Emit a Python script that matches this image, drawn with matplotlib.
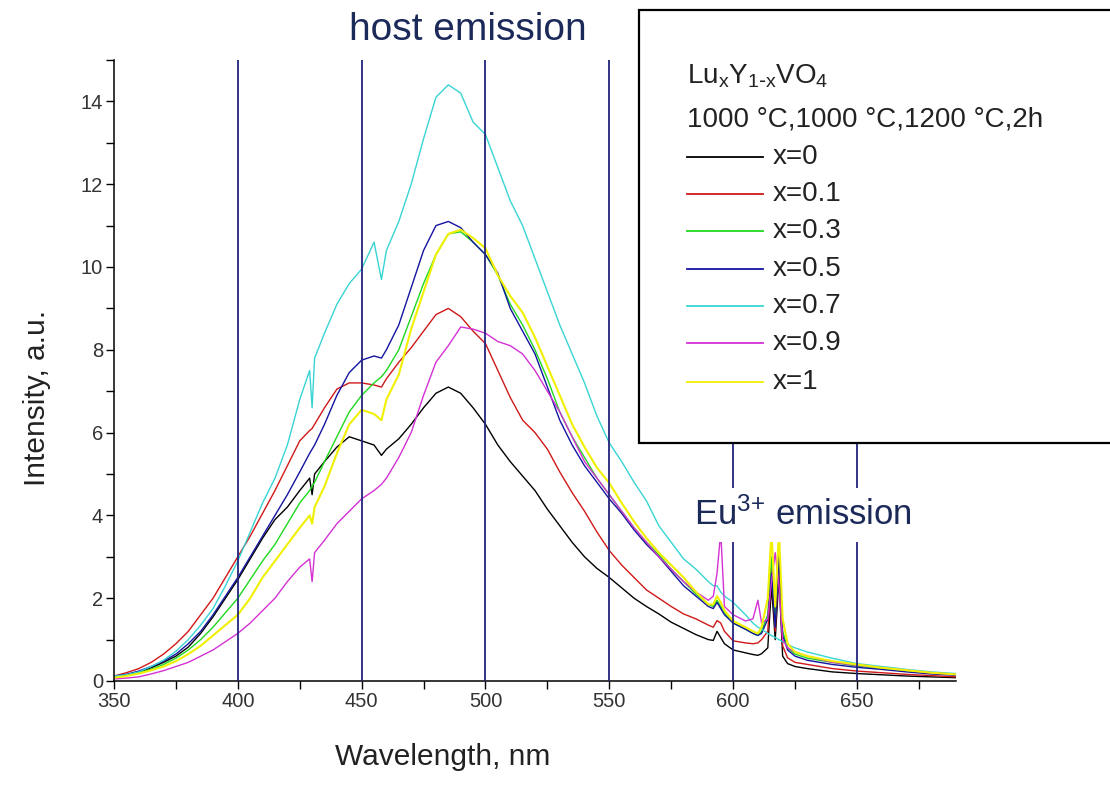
import matplotlib
matplotlib.use("Agg")
import matplotlib.pyplot as plt
from matplotlib.lines import Line2D
from matplotlib.patches import Rectangle
from matplotlib.ticker import MultipleLocator

plt.rcParams["font.family"] = ["Liberation Sans", "DejaVu Sans"]
plt.rcParams["mathtext.default"] = "regular"

# wavelength grid (nm), shared by all spectra
wavelength = [
    350, 355, 360, 365, 370, 375, 380, 385, 390, 395, 400, 405, 410, 415, 420, 425,
    429, 430, 431, 435, 440, 445, 450, 455, 458, 460, 465, 470, 475, 480, 485, 490,
    495, 500, 505, 510, 515, 520, 525, 530, 535, 540, 545, 550, 555, 560, 565, 570,
    575, 580, 585, 590, 592, 593.5, 595, 596.5, 600, 605, 608, 610, 611.5, 614,
    615.5, 617, 618.5, 620, 622, 625, 630, 640, 650, 660, 670, 680, 690,
]

x0 = [
    0.10, 0.15, 0.20, 0.32, 0.45, 0.60, 0.82, 1.15, 1.55, 2.00, 2.45, 2.95, 3.45, 3.90, 4.20, 4.60,
    4.90, 4.50, 5.00, 5.30, 5.65, 5.90, 5.80, 5.70, 5.45, 5.60, 5.85, 6.20, 6.60, 6.95, 7.10, 6.95,
    6.60, 6.20, 5.70, 5.30, 4.95, 4.60, 4.15, 3.75, 3.35, 3.00, 2.72, 2.50, 2.25, 2.00, 1.80, 1.62,
    1.42, 1.27, 1.12, 1.00, 0.98, 1.20, 1.05, 0.90, 0.75, 0.68, 0.64, 0.62, 0.66, 0.80,
    2.30, 1.00, 2.50, 0.60, 0.42, 0.35, 0.30, 0.22, 0.18, 0.15, 0.12, 0.10, 0.08,
]
x01 = [
    0.12, 0.20, 0.30, 0.45, 0.65, 0.90, 1.20, 1.60, 2.00, 2.50, 3.00, 3.50, 4.05, 4.60, 5.20, 5.80,
    6.05, 6.10, 6.20, 6.60, 7.05, 7.20, 7.20, 7.15, 7.10, 7.30, 7.70, 8.05, 8.45, 8.85, 9.00, 8.80,
    8.45, 8.15, 7.50, 6.85, 6.30, 6.00, 5.60, 5.05, 4.55, 4.10, 3.60, 3.15, 2.80, 2.50, 2.20, 2.00,
    1.80, 1.62, 1.50, 1.35, 1.30, 1.46, 1.40, 1.20, 0.97, 0.92, 0.90, 0.92, 1.00, 1.20,
    2.70, 1.20, 2.90, 0.85, 0.56, 0.45, 0.40, 0.30, 0.24, 0.20, 0.16, 0.13, 0.10,
]
x03 = [
    0.10, 0.13, 0.20, 0.28, 0.40, 0.55, 0.75, 1.00, 1.30, 1.65, 2.00, 2.45, 2.90, 3.30, 3.80, 4.30,
    4.60, 4.70, 4.80, 5.30, 5.90, 6.50, 6.90, 7.20, 7.35, 7.50, 8.00, 8.80, 9.60, 10.30, 10.80, 10.85,
    10.60, 10.30, 9.80, 9.10, 8.60, 8.00, 7.30, 6.50, 5.90, 5.40, 4.90, 4.50, 4.10, 3.70, 3.35, 3.05,
    2.70, 2.40, 2.10, 1.85, 1.80, 1.95, 1.80, 1.65, 1.40, 1.25, 1.15, 1.10, 1.20, 1.60,
    3.00, 1.40, 3.40, 1.20, 0.80, 0.65, 0.55, 0.45, 0.36, 0.30, 0.24, 0.19, 0.15,
]
x05 = [
    0.12, 0.16, 0.24, 0.35, 0.48, 0.65, 0.90, 1.20, 1.60, 2.05, 2.50, 3.00, 3.50, 4.00, 4.50, 5.05,
    5.50, 5.60, 5.70, 6.20, 6.90, 7.45, 7.75, 7.85, 7.80, 8.00, 8.60, 9.50, 10.40, 11.00, 11.10, 10.95,
    10.60, 10.30, 9.85, 9.00, 8.45, 7.90, 7.10, 6.30, 5.70, 5.20, 4.80, 4.40, 4.05, 3.65, 3.30, 3.00,
    2.65, 2.30, 2.05, 1.80, 1.75, 1.90, 1.75, 1.60, 1.40, 1.25, 1.15, 1.10, 1.15, 1.50,
    2.60, 1.30, 3.00, 1.10, 0.75, 0.60, 0.50, 0.40, 0.33, 0.28, 0.22, 0.17, 0.14,
]
x07 = [
    0.12, 0.15, 0.22, 0.35, 0.50, 0.72, 1.00, 1.35, 1.75, 2.30, 2.90, 3.60, 4.30, 4.90, 5.70, 6.80,
    7.50, 6.60, 7.80, 8.40, 9.10, 9.60, 9.95, 10.60, 9.70, 10.40, 11.10, 12.00, 13.10, 14.10, 14.40, 14.20,
    13.50, 13.20, 12.40, 11.60, 11.00, 10.20, 9.40, 8.60, 7.90, 7.20, 6.40, 5.75, 5.30, 4.80, 4.35, 3.75,
    3.35, 2.95, 2.70, 2.40, 2.30, 2.30, 2.15, 2.05, 1.90, 1.60, 1.40, 1.30, 1.25, 1.15,
    1.10, 1.05, 1.00, 0.95, 0.88, 0.80, 0.70, 0.55, 0.42, 0.35, 0.28, 0.22, 0.18,
]
x09 = [
    0.05, 0.07, 0.10, 0.17, 0.25, 0.35, 0.45, 0.60, 0.75, 0.95, 1.15, 1.40, 1.70, 2.00, 2.40, 2.75,
    2.95, 2.40, 3.10, 3.40, 3.80, 4.10, 4.40, 4.60, 4.75, 4.90, 5.40, 6.00, 6.90, 7.70, 8.10, 8.55,
    8.50, 8.40, 8.20, 8.10, 7.90, 7.50, 7.00, 6.50, 5.90, 5.30, 4.90, 4.50, 4.10, 3.70, 3.35, 3.00,
    2.70, 2.40, 2.15, 1.95, 2.05, 2.60, 3.60, 1.80, 1.60, 1.45, 1.50, 1.95, 1.40, 1.50,
    2.40, 3.10, 2.30, 1.00, 0.80, 0.70, 0.60, 0.45, 0.38, 0.32, 0.26, 0.20, 0.16,
]
x1 = [
    0.08, 0.12, 0.18, 0.26, 0.35, 0.48, 0.65, 0.85, 1.10, 1.35, 1.60, 2.00, 2.50, 2.90, 3.30, 3.70,
    4.00, 3.80, 4.20, 4.70, 5.50, 6.20, 6.55, 6.45, 6.30, 6.80, 7.40, 8.50, 9.40, 10.30, 10.80, 10.90,
    10.70, 10.45, 9.80, 9.30, 8.90, 8.30, 7.60, 6.90, 6.20, 5.65, 5.15, 4.78, 4.30, 3.85, 3.45, 3.10,
    2.80, 2.50, 2.15, 1.85, 1.85, 2.05, 1.90, 1.70, 1.45, 1.30, 1.20, 1.15, 1.30, 2.00,
    3.60, 1.80, 3.60, 1.50, 0.90, 0.70, 0.60, 0.48, 0.40, 0.32, 0.26, 0.20, 0.16,
]

series_labels = ["x=0", "x=0.1", "x=0.3", "x=0.5", "x=0.7", "x=0.9", "x=1"]
series_values = [x0, x01, x03, x05, x07, x09, x1]
series_colors = ["#000000", "#d01818", "#1ed81e", "#1414a0", "#38d4d4", "#d431d4", "#f0f000"]

marker_lines = [400, 450, 500, 550, 600, 650]

W, H = 1110, 789


def fx(px):
    return px / W


def fy(py):
    return 1 - py / H


fig = plt.figure(figsize=(W / 100, H / 100), dpi=100)
ax = fig.add_axes([fx(114), fy(681), fx(956) - fx(114), fy(60) - fy(681)])

lines = []
for vals, col in zip(series_values, series_colors):
    lw = 1.5 if col == "#f0f000" else 1.0
    (ln,) = ax.plot(wavelength, vals, color=col, lw=lw, zorder=2)
    lines.append(ln)

for xv in marker_lines:
    ax.axvline(xv, color="#23237c", lw=1.3, zorder=3)

ax.set_xlim(350, 690)
ax.set_ylim(0, 15)
ax.xaxis.set_minor_locator(MultipleLocator(25))
ax.yaxis.set_major_locator(MultipleLocator(2))
ax.yaxis.set_minor_locator(MultipleLocator(1))
ax.set_xticks(range(350, 651, 50))
ax.tick_params(which="both", direction="out", length=6, width=1, labelsize=14.5,
               labelcolor="#333333")
ax.tick_params(axis="x", pad=2)
ax.tick_params(axis="y", pad=2)
for s in ("top", "right"):
    ax.spines[s].set_visible(False)
for s in ("left", "bottom"):
    ax.spines[s].set_linewidth(1.1)

ax.set_xlabel("Wavelength, nm", fontsize=21.5, color="#222222")
ax.xaxis.set_label_coords(0.39, -0.10)
ax.set_ylabel("Intensity, a.u.", fontsize=21.5, color="#222222")
ax.yaxis.set_label_coords(-0.075, 0.456)

fig.text(fx(468), fy(30), "host emission", fontsize=28, color="#1c2a5a",
         ha="center", va="center")
fig.text(fx(803), fy(515), "Eu$^{3{+}}$ emission", fontsize=25, color="#1c2a5a",
         ha="center", va="center", zorder=7,
         bbox=dict(boxstyle="square,pad=0.27", fc="white", ec="none"))

# legend box drawn by hand to match the layout
fig.add_artist(Rectangle((fx(639), fy(443)), 0.6, fy(10) - fy(443),
                         transform=fig.transFigure, fc="white", ec="black",
                         lw=1.6, zorder=5))
fig.text(fx(687), fy(76), r"Lu$_x$Y$_{1\text{-}x}$VO$_4$", fontsize=20,
         color="#222222", ha="left", va="center", zorder=6)
fig.text(fx(687), fy(120), "1000 °C,1000 °C,1200 °C,2h", fontsize=20,
         color="#222222", ha="left", va="center", zorder=6)
rows = [157, 194, 231, 269, 306, 343, 382]
for ln, label, row in zip(lines, series_labels, rows):
    fig.add_artist(Line2D([fx(687), fx(763)], [fy(row), fy(row)],
                          transform=fig.transFigure, color=ln.get_color(),
                          lw=1.3, zorder=6))
    fig.text(fx(773), fy(row), label, fontsize=20, color="#222222",
             ha="left", va="center", zorder=6)

fig.savefig("out.png", dpi=100)
